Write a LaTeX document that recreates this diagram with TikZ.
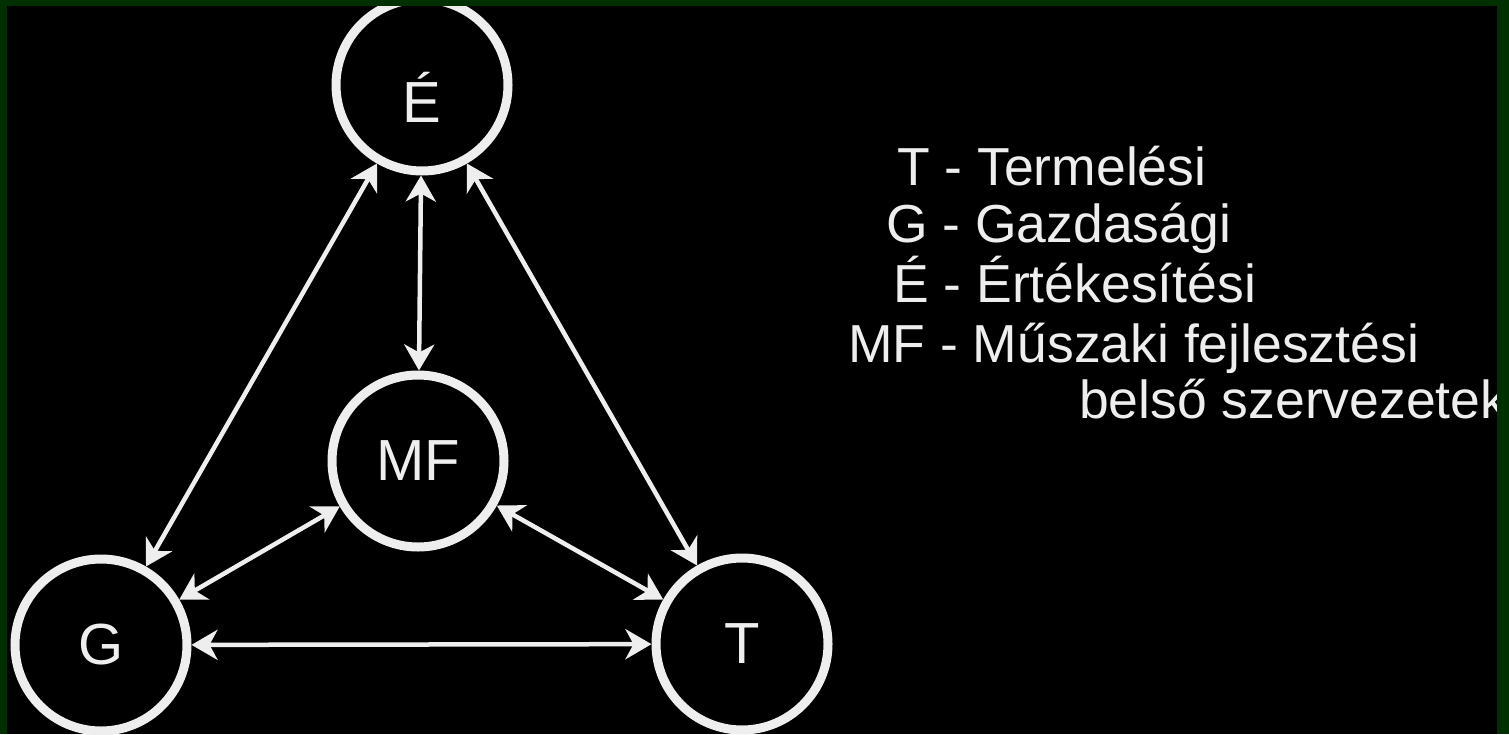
\documentclass[tikz,border=0pt]{standalone}
\usepackage{fontspec}
\setmainfont{Liberation Sans}
\usetikzlibrary{arrows.meta}
\definecolor{frame}{RGB}{0,48,0}
\definecolor{ink}{RGB}{238,238,238}
\begin{document}
\begin{tikzpicture}[x=1pt,y=-1pt,
  unit/.style={circle,draw=ink,line width=9pt,minimum size=172pt,inner sep=0pt,outer sep=4.5pt,text=ink,font=\fontsize{58}{60}\selectfont},
  tip/.tip={Stealth[length=26pt,width=30pt,inset=8pt]},
  link/.style={draw=ink,line width=4.5pt,tip-tip},
  legend/.style={anchor=base west,inner sep=0pt,text=ink,font=\fontsize{53.5}{60}\selectfont}]
\useasboundingbox (0,0) rectangle (1509,734);
\fill[black] (0,0) rectangle (1509,734);
\begin{scope}
\clip (0,0) rectangle (1509,734);
\node[unit,text height=74pt,text depth=0pt] (E) at (422,85) {É};
\node[unit] (MF) at (418,461) {MF};
\node[unit] (G) at (101,645) {G};
\node[unit] (T) at (742,644) {T};
\draw[link] (E) -- (MF);
\draw[link] (E) -- (G);
\draw[link] (E) -- (T);
\draw[link] (MF) -- (G);
\draw[link] (MF) -- (T);
\draw[link] (G) -- (T);
\node[legend] (l1) at (897,185) {T - Termelési};
\node[legend] (l2) at (886,242) {G - Gazdasági};
\node[legend] (l3) at (893,302) {É - Értékesítési};
\node[legend] (l4) at (848,362) {MF - Műszaki fejlesztési};
\node[legend] (l5) at (1079,418) {belső szervezetek};
\end{scope}
\fill[frame] (0,0) rectangle (1509,6);
\fill[frame] (0,0) rectangle (7,734);
\fill[frame] (1497,0) rectangle (1509,734);
\end{tikzpicture}
\end{document}
